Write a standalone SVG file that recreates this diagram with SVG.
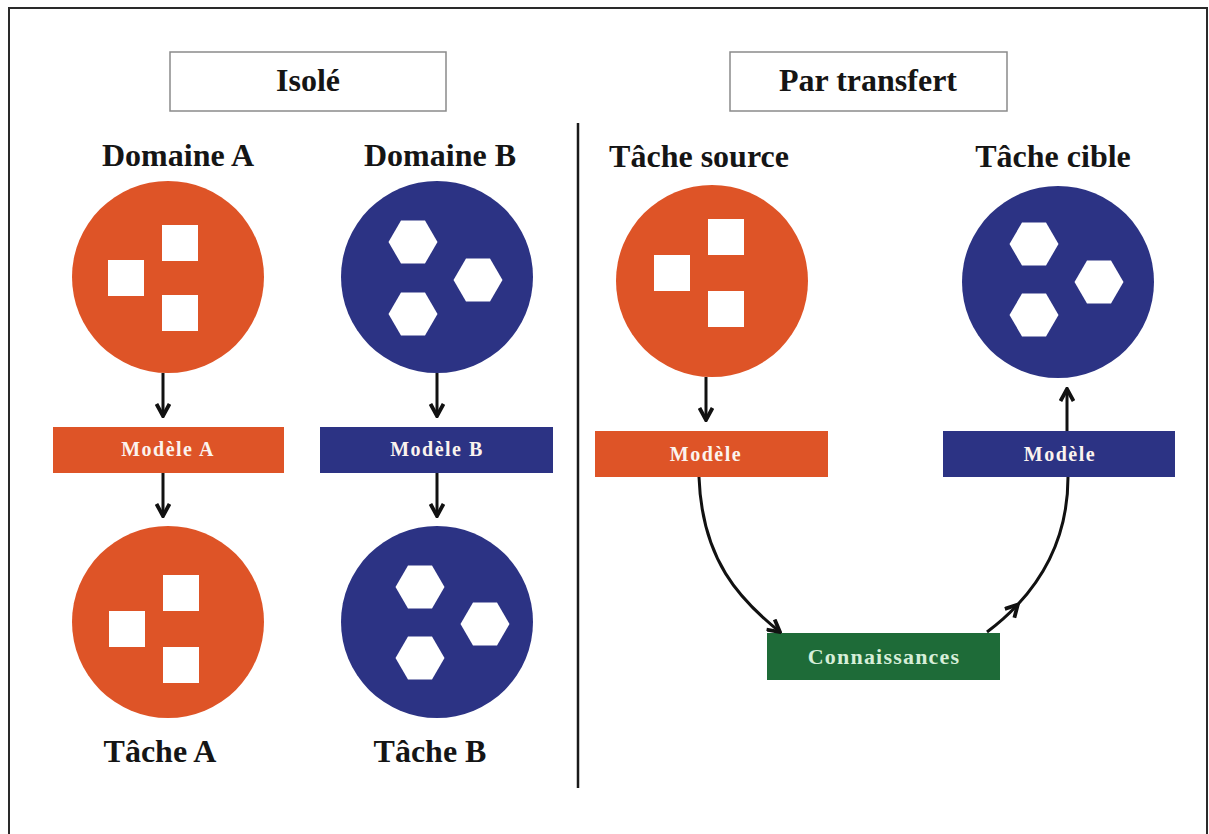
<svg xmlns="http://www.w3.org/2000/svg" width="1209" height="834" viewBox="0 0 1209 834">
  <style>
    .title { font-family: "Liberation Serif", "Times New Roman", serif; font-weight: bold; font-size: 32px; fill: #151515; text-anchor: middle; }
    .lbl { font-family: "Liberation Serif", "Times New Roman", serif; font-weight: bold; font-size: 20px; letter-spacing: 1.5px; fill: #fbf3ee; text-anchor: middle; }
    .lbl-g { font-family: "Liberation Serif", "Times New Roman", serif; font-weight: bold; font-size: 22px; letter-spacing: 1.2px; fill: #d6eed8; text-anchor: middle; }
    .hdr { fill: #ffffff; stroke: #8a8a8a; stroke-width: 1.5; }
    .org { fill: #de5427; }
    .blu { fill: #2c3384; }
    .grn { fill: #1e6b38; }
    .edge { fill: none; stroke: #111111; stroke-width: 3; }
  </style>
  <defs>
    <marker id="chev" viewBox="0 0 16 16" refX="14" refY="8" markerWidth="16" markerHeight="16" markerUnits="userSpaceOnUse" orient="auto">
      <path d="M2,1.5 L14,8 L2,14.5" fill="none" stroke="#111111" stroke-width="3.8"/>
    </marker>
    <!-- white hexagon with pointy left/right ends, centred on 0,0 -->
    <polygon id="hex" points="-24.5,0 -12,-21.5 12,-21.5 24.5,0 12,21.5 -12,21.5" fill="#ffffff"/>
    <rect id="sq" x="-18" y="-18" width="36" height="36" fill="#ffffff"/>
  </defs>

  <rect width="1209" height="834" fill="#ffffff"/>
  <!-- frame, open at the bottom -->
  <rect x="9" y="8" width="1198" height="900" fill="none" stroke="#2a2a2a" stroke-width="2"/>

  <!-- section headers -->
  <g id="hdr-isole">
    <rect class="hdr" x="170" y="52" width="276" height="59"/>
    <text class="title" x="308" y="91">Isolé</text>
  </g>
  <g id="hdr-transfert">
    <rect class="hdr" x="730" y="52" width="277" height="59"/>
    <text class="title" x="868" y="91">Par transfert</text>
  </g>

  <!-- divider -->
  <line x1="578" y1="123" x2="578" y2="788" stroke="#1a1a1a" stroke-width="2.5"/>

  <!-- left column: domain A -->
  <g id="domaine-a">
    <text class="title" x="178" y="166">Domaine A</text>
    <circle class="org" cx="168" cy="277" r="96"/>
    <use href="#sq" x="180" y="243"/>
    <use href="#sq" x="126" y="278"/>
    <use href="#sq" x="180" y="313"/>
  </g>
  <g id="modele-a">
    <rect class="org" x="53" y="427" width="231" height="46"/>
    <text class="lbl" x="168" y="456">Modèle A</text>
  </g>
  <g id="tache-a">
    <circle class="org" cx="168" cy="622" r="96"/>
    <use href="#sq" x="181" y="593"/>
    <use href="#sq" x="127" y="629"/>
    <use href="#sq" x="181" y="665"/>
    <text class="title" x="160" y="762">Tâche A</text>
  </g>

  <!-- left column: domain B -->
  <g id="domaine-b">
    <text class="title" x="440" y="166">Domaine B</text>
    <circle class="blu" cx="437" cy="277" r="96"/>
    <use href="#hex" x="413" y="242"/>
    <use href="#hex" x="478" y="280"/>
    <use href="#hex" x="413" y="314"/>
  </g>
  <g id="modele-b">
    <rect class="blu" x="320" y="427" width="233" height="46"/>
    <text class="lbl" x="437" y="456">Modèle B</text>
  </g>
  <g id="tache-b">
    <circle class="blu" cx="437" cy="622" r="96"/>
    <use href="#hex" x="420" y="587"/>
    <use href="#hex" x="485" y="624"/>
    <use href="#hex" x="420" y="658"/>
    <text class="title" x="430" y="762">Tâche B</text>
  </g>

  <!-- right side: source task -->
  <g id="tache-source">
    <text class="title" x="699" y="167">Tâche source</text>
    <circle class="org" cx="712" cy="281" r="96"/>
    <use href="#sq" x="726" y="237"/>
    <use href="#sq" x="672" y="273"/>
    <use href="#sq" x="726" y="309"/>
  </g>
  <g id="modele-source">
    <rect class="org" x="595" y="431" width="233" height="46"/>
    <text class="lbl" x="706" y="461">Modèle</text>
  </g>

  <!-- right side: target task -->
  <g id="tache-cible">
    <text class="title" x="1053" y="167">Tâche cible</text>
    <circle class="blu" cx="1058" cy="282" r="96"/>
    <use href="#hex" x="1034" y="244"/>
    <use href="#hex" x="1099" y="282"/>
    <use href="#hex" x="1034" y="315"/>
  </g>
  <g id="modele-cible">
    <rect class="blu" x="943" y="431" width="232" height="46"/>
    <text class="lbl" x="1060" y="461">Modèle</text>
  </g>

  <g id="connaissances">
    <rect class="grn" x="767" y="633" width="233" height="47"/>
    <text class="lbl-g" x="884" y="664">Connaissances</text>
  </g>

  <!-- connectors -->
  <g id="connectors">
    <line class="edge" x1="163" y1="373" x2="163" y2="416" marker-end="url(#chev)"/>
    <line class="edge" x1="163" y1="473" x2="163" y2="516" marker-end="url(#chev)"/>
    <line class="edge" x1="437" y1="373" x2="437" y2="416" marker-end="url(#chev)"/>
    <line class="edge" x1="437" y1="473" x2="437" y2="516" marker-end="url(#chev)"/>
    <line class="edge" x1="706" y1="377" x2="706" y2="420" marker-end="url(#chev)"/>
    <line class="edge" x1="1067" y1="431" x2="1067" y2="389" marker-end="url(#chev)"/>
    <path class="edge" d="M699,477 C702,560 740,600 780,632" marker-end="url(#chev)"/>
    <path class="edge" d="M987,632 C997.75,624 1008.19,614.88 1017.8,604.55 C1046.63,573.56 1068,531.75 1068,477" marker-mid="url(#chev)"/>
  </g>
</svg>
